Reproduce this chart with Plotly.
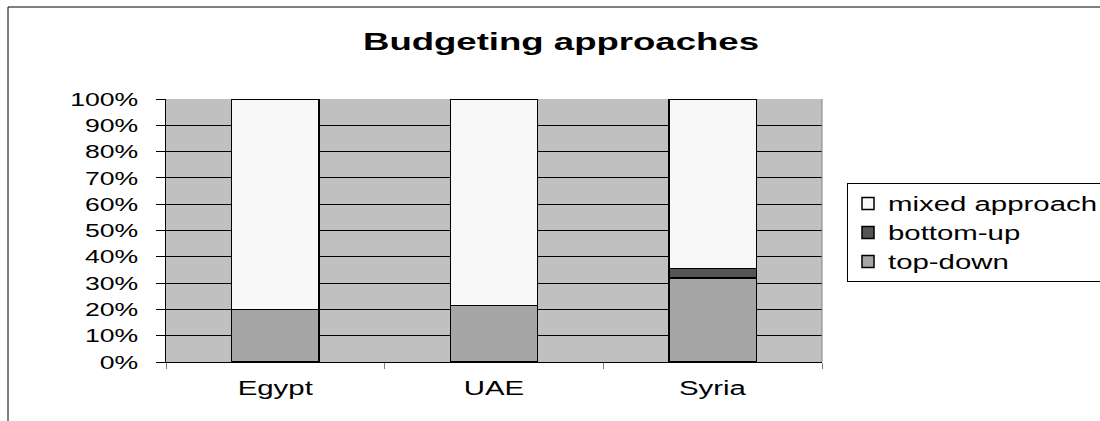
import plotly.graph_objects as go

# Budgeting approaches by country (share of respondents, 100% stacked)
countries = ["Egypt", "UAE", "Syria"]
top_down = [0.20, 0.215, 0.32]
bottom_up = [0.0, 0.0, 0.036]
mixed_approach = [0.80, 0.785, 0.644]

series = [
    ("top-down", top_down, "#A6A6A6"),
    ("bottom-up", bottom_up, "#555555"),
    ("mixed approach", mixed_approach, "#F8F8F8"),
]

FONT = "Liberation Sans, Arial, sans-serif"

fig = go.Figure()
for name, vals, color in series:
    fig.add_trace(go.Bar(
        x=countries, y=vals, name=name, width=0.4,
        marker=dict(color=color, line=dict(color="black", width=1.5)),
    ))

# plot area geometry in pixels
W, H = 1100, 421
L, R, T, B = 166, 822, 99, 362
pw, ph = R - L, B - T

def px(x):
    return (x - L) / pw

def py(y):
    return (B - y) / ph

fig.update_layout(
    width=W, height=H,
    barmode="stack",
    paper_bgcolor="white",
    plot_bgcolor="#C0C0C0",
    margin=dict(l=L, r=W - R, t=T, b=H - B, autoexpand=False),
    font=dict(family=FONT, color="black", size=18),
    title=dict(
        text="<b>Budgeting approaches</b>",
        font=dict(family=FONT, size=23, color="black"),
        x=561 / W, xanchor="center", xref="container",
        y=1 - 42 / H, yanchor="middle", yref="container",
    ),
    showlegend=True,
    legend=dict(
        x=px(847), y=py(183), xanchor="left", yanchor="top",
        bgcolor="white", bordercolor="black", borderwidth=1,
        font=dict(family=FONT, size=20, color="black"),
        traceorder="reversed",
        itemwidth=30,
        tracegroupgap=0,
    ),
    xaxis=dict(
        type="category",
        tickson="boundaries",
        ticks="outside", ticklen=6, tickcolor="#808080",
        showline=True, linecolor="black", linewidth=1,
        showgrid=False,
        tickfont=dict(family=FONT, size=20),
        ticklabelstandoff=8,
        range=[-0.5, 2.5],
    ),
    yaxis=dict(
        range=[0, 1], dtick=0.1, tickformat=".0%",
        ticks="outside", ticklen=9, tickcolor="black",
        showline=True, linecolor="black", linewidth=1,
        showgrid=True, gridcolor="black", gridwidth=1,
        zeroline=False,
        tickfont=dict(family=FONT, size=19),
        ticklabelstandoff=14,
    ),
    shapes=[
        # right edge of the plot area
        dict(type="line", xref="paper", yref="paper", x0=1, x1=1, y0=0, y1=1,
             line=dict(color="#808080", width=1), layer="above"),
        # outer chart frame
        dict(type="path", xref="paper", yref="paper",
             path=f"M {px(8)} {py(H + 5)} L {px(8)} {py(7)} L {px(W + 5)} {py(7)}",
             line=dict(color="black", width=1)),
    ],
)

# The chart's lettering is set wide: stretch each text horizontally
# about its own anchor point, keeping it as live SVG text. The legend
# box and its clip region are widened to hold the wider labels.
stretch_js = """
var gd = document.getElementById('{plot_id}');
function stretch(sel, sx) {
  gd.querySelectorAll(sel).forEach(function (t) {
    var bb = t.getBBox();
    var anchor = t.getAttribute('text-anchor') || 'start';
    var cx = bb.x;
    if (anchor === 'end') { cx = bb.x + bb.width; }
    else if (anchor === 'middle') { cx = bb.x + bb.width / 2; }
    var prev = t.getAttribute('transform') || '';
    t.setAttribute('transform', prev + ' translate(' + cx + ',0) scale(' + sx + ',1) translate(' + (-cx) + ',0)');
  });
}
stretch('.gtitle', 1.59);
stretch('.ytick text', 1.40);
stretch('.xtick text', 1.47);
stretch('.legendtext', 1.47);

var legendWidth = 300;
var lg = gd.querySelector('.legend');
if (lg) {
  var bg = lg.querySelector('rect.bg');
  if (bg) { bg.setAttribute('width', legendWidth); }
  var sb = lg.querySelector('.scrollbox');
  if (sb) {
    var cp = sb.getAttribute('clip-path');
    var m = cp && cp.match(/#([^)'"]+)/);
    if (m) {
      var clip = document.getElementById(m[1]);
      if (clip) {
        clip.querySelectorAll('rect').forEach(function (r) { r.setAttribute('width', legendWidth); });
      }
    }
    sb.removeAttribute('clip-path');
  }
}
"""

fig.write_html("out.html", post_script=stretch_js)
